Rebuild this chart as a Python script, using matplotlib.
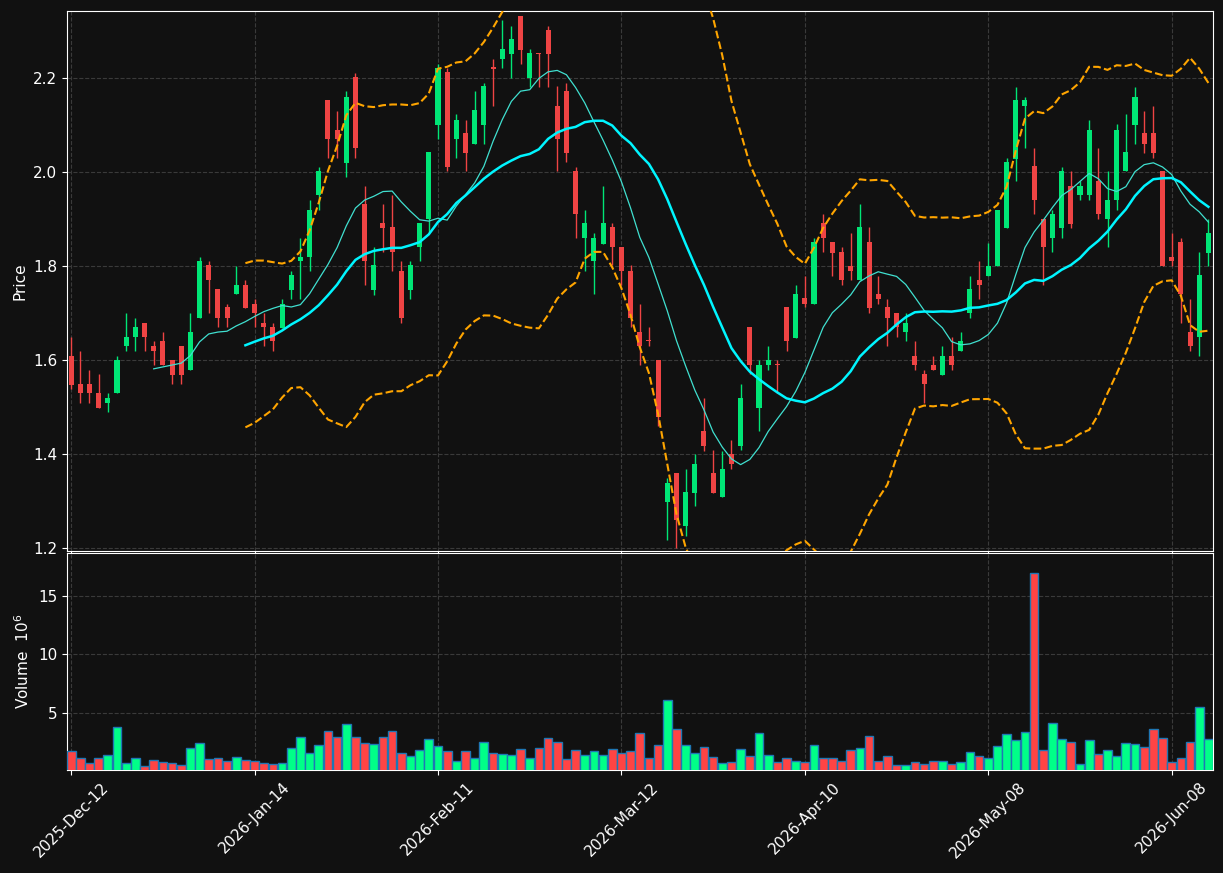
import numpy as np
import pandas as pd
import matplotlib
matplotlib.use("Agg")
import matplotlib.pyplot as plt

# dados OHLC (preço)
opens = [1.609, 1.550, 1.550, 1.531, 1.508, 1.529, 1.629, 1.648, 1.679, 1.630,
         1.641, 1.601, 1.630, 1.578, 1.689, 1.801, 1.750, 1.712, 1.740, 1.760,
         1.720, 1.679, 1.671, 1.669, 1.748, 1.810, 1.818, 1.951, 2.152, 2.090,
         2.019, 2.201, 1.931, 1.748, 1.891, 1.882, 1.790, 1.748, 1.840, 1.899,
         2.100, 2.212, 2.070, 2.082, 2.059, 2.100, 2.222, 2.241, 2.251, 2.331,
         2.200, 2.252, 2.301, 2.141, 2.171, 2.001, 1.860, 1.810, 1.847, 1.882,
         1.841, 1.790, 1.660, 1.641, 1.601, 1.299, 1.360, 1.248, 1.317, 1.449,
         1.360, 1.308, 1.400, 1.418, 1.671, 1.499, 1.589, 1.591, 1.712, 1.647,
         1.731, 1.719, 1.891, 1.850, 1.830, 1.800, 1.770, 1.850, 1.740, 1.712,
         1.700, 1.660, 1.608, 1.571, 1.590, 1.569, 1.608, 1.619, 1.700, 1.771,
         1.779, 1.800, 1.880, 2.028, 2.140, 2.012, 1.900, 1.860, 1.880, 1.971,
         1.951, 1.951, 1.981, 1.899, 1.940, 2.001, 2.100, 2.082, 2.082, 2.001,
         1.820, 1.850, 1.660, 1.649, 1.828]
highs = [1.650, 1.619, 1.579, 1.571, 1.531, 1.608, 1.700, 1.690, 1.679, 1.641,
         1.660, 1.601, 1.630, 1.700, 1.820, 1.811, 1.750, 1.719, 1.800, 1.770,
         1.730, 1.700, 1.679, 1.730, 1.789, 1.860, 1.941, 2.010, 2.152, 2.130,
         2.171, 2.211, 1.971, 1.841, 1.931, 1.951, 1.811, 1.811, 1.891, 2.042,
         2.230, 2.220, 2.122, 2.111, 2.171, 2.190, 2.241, 2.322, 2.311, 2.331,
         2.261, 2.252, 2.311, 2.182, 2.190, 2.010, 1.920, 1.870, 1.971, 1.891,
         1.841, 1.801, 1.719, 1.671, 1.601, 1.349, 1.360, 1.369, 1.400, 1.519,
         1.409, 1.407, 1.430, 1.549, 1.671, 1.600, 1.630, 1.600, 1.712, 1.760,
         1.779, 1.860, 1.911, 1.850, 1.841, 1.871, 1.931, 1.882, 1.779, 1.729,
         1.700, 1.700, 1.640, 1.579, 1.608, 1.630, 1.650, 1.660, 1.779, 1.811,
         1.848, 1.920, 2.030, 2.181, 2.160, 2.051, 1.900, 1.920, 2.010, 2.001,
         1.981, 2.111, 2.051, 2.001, 2.101, 2.122, 2.181, 2.130, 2.141, 2.001,
         1.870, 1.860, 1.730, 1.830, 1.900]
lows = [1.539, 1.509, 1.509, 1.499, 1.490, 1.529, 1.619, 1.619, 1.619, 1.589,
        1.589, 1.549, 1.549, 1.578, 1.689, 1.700, 1.671, 1.671, 1.740, 1.710,
        1.671, 1.629, 1.619, 1.669, 1.729, 1.729, 1.789, 1.920, 2.030, 2.030,
        1.990, 2.030, 1.759, 1.739, 1.830, 1.789, 1.678, 1.729, 1.811, 1.871,
        2.070, 2.001, 2.030, 2.001, 2.059, 2.059, 2.141, 2.221, 2.200, 2.230,
        2.180, 2.180, 2.180, 2.001, 2.020, 1.860, 1.789, 1.740, 1.847, 1.801,
        1.759, 1.671, 1.589, 1.629, 1.460, 1.218, 1.200, 1.227, 1.289, 1.407,
        1.317, 1.308, 1.369, 1.409, 1.571, 1.449, 1.579, 1.530, 1.619, 1.647,
        1.712, 1.719, 1.830, 1.779, 1.759, 1.770, 1.770, 1.700, 1.719, 1.630,
        1.650, 1.640, 1.579, 1.509, 1.579, 1.569, 1.579, 1.619, 1.689, 1.729,
        1.779, 1.800, 1.880, 1.981, 2.050, 1.910, 1.759, 1.830, 1.860, 1.880,
        1.940, 1.940, 1.900, 1.840, 1.920, 2.001, 2.060, 2.041, 2.030, 1.800,
        1.800, 1.679, 1.619, 1.608, 1.800]
closes = [1.548, 1.529, 1.529, 1.499, 1.520, 1.601, 1.649, 1.671, 1.648, 1.619,
          1.589, 1.569, 1.569, 1.660, 1.811, 1.770, 1.689, 1.689, 1.760, 1.710,
          1.699, 1.671, 1.640, 1.720, 1.780, 1.820, 1.920, 2.001, 2.070, 2.070,
          2.160, 2.050, 1.810, 1.801, 1.880, 1.830, 1.689, 1.801, 1.891, 2.042,
          2.221, 2.010, 2.111, 2.040, 2.131, 2.182, 2.219, 2.261, 2.282, 2.259,
          2.252, 2.250, 2.251, 2.070, 2.040, 1.910, 1.891, 1.860, 1.891, 1.840,
          1.789, 1.689, 1.629, 1.640, 1.478, 1.339, 1.259, 1.320, 1.380, 1.418,
          1.317, 1.369, 1.378, 1.519, 1.589, 1.590, 1.601, 1.589, 1.640, 1.740,
          1.719, 1.850, 1.860, 1.828, 1.770, 1.789, 1.882, 1.710, 1.729, 1.689,
          1.671, 1.679, 1.589, 1.549, 1.579, 1.608, 1.589, 1.641, 1.750, 1.759,
          1.800, 1.920, 2.020, 2.152, 2.152, 1.940, 1.840, 1.911, 2.001, 1.889,
          1.971, 2.090, 1.910, 1.941, 2.090, 2.042, 2.160, 2.060, 2.040, 1.800,
          1.810, 1.740, 1.629, 1.780, 1.871]
# volume em milhões
volumes = [1.77, 1.15, 0.75, 1.15, 1.40, 3.81, 0.75, 1.15, 0.47, 0.98,
           0.84, 0.75, 0.58, 2.00, 2.45, 1.09, 1.15, 0.92, 1.26, 1.00,
           0.92, 0.75, 0.64, 0.75, 2.00, 2.96, 1.60, 2.28, 3.47, 2.96,
           4.07, 2.96, 2.45, 2.37, 2.96, 3.47, 1.60, 1.35, 1.86, 2.79,
           2.20, 1.77, 0.92, 1.77, 1.18, 2.54, 1.60, 1.52, 1.43, 1.94,
           1.18, 2.03, 2.88, 2.54, 1.09, 1.86, 1.43, 1.77, 1.43, 1.94,
           1.60, 1.77, 3.30, 1.18, 2.28, 6.10, 3.64, 2.28, 1.60, 2.11,
           1.26, 0.75, 0.84, 1.94, 1.35, 3.30, 1.43, 0.84, 1.18, 0.92,
           0.84, 2.28, 1.18, 1.18, 0.92, 1.86, 2.03, 3.05, 0.92, 1.35,
           0.58, 0.58, 0.84, 0.67, 0.92, 0.92, 0.67, 0.84, 1.69, 1.35,
           1.18, 2.20, 3.22, 2.71, 3.39, 16.95, 1.86, 4.15, 2.79, 2.54,
           0.67, 2.71, 1.52, 1.86, 1.35, 2.45, 2.37, 2.11, 3.64, 2.88,
           0.84, 1.18, 2.54, 5.51, 2.79]

# dias úteis (sem feriados)
feriados = ['2025-12-25', '2025-12-26', '2026-01-01', '2026-02-16', '2026-04-03', '2026-05-25']
datas = pd.bdate_range('2025-12-12', periods=len(closes) + len(feriados))
datas = datas[~datas.isin(pd.to_datetime(feriados))][:len(closes)]

df = pd.DataFrame({'Open': opens, 'High': highs, 'Low': lows, 'Close': closes,
                   'Volume': volumes}, index=datas)

# médias móveis e bandas de Bollinger
ma10 = df['Close'].rolling(10).mean()
ma20 = df['Close'].rolling(20).mean()
std20 = df['Close'].rolling(20).std(ddof=0)
bb_up = ma20 + 2 * std20
bb_dn = ma20 - 2 * std20

bg = '#111111'
up_c, dn_c = '#00e676', '#ef4444'
vup_c, vdn_c = '#00ff88', '#ff4444'

fig = plt.figure(figsize=(12.23, 8.73), dpi=100, facecolor=bg)
ax = fig.add_axes([0.0548, 0.3688, 0.937, 0.6186], facecolor=bg)
axv = fig.add_axes([0.0548, 0.118, 0.937, 0.2486], facecolor=bg, sharex=ax)

x = np.arange(len(df))
subida = df['Close'] >= df['Open']
cores = np.where(subida, up_c, dn_c)

# pavios e corpos
ax.vlines(x, df['Low'], df['High'], colors=cores, linewidth=1, zorder=2)
base = np.minimum(df['Open'], df['Close'])
altura = np.maximum((df['Close'] - df['Open']).abs(), 0.002)
ax.bar(x, altura, bottom=base, width=0.55, color=cores, linewidth=0, zorder=3)

ax.plot(x, ma10, color='#40e0d0', linewidth=0.9, zorder=4)
ax.plot(x, ma20, color='#00f5ff', linewidth=1.8, zorder=4)
ax.plot(x, bb_up, color='#ffa500', linewidth=1.5, linestyle='--', zorder=4)
ax.plot(x, bb_dn, color='#ffa500', linewidth=1.5, linestyle='--', zorder=4)

ax.set_ylim(df['Low'].min() - 0.006, df['High'].max() + 0.011)
ax.set_xlim(-0.45, len(df) - 0.5)
ax.set_ylabel('Price', color='white', fontsize=11)

vcores = np.where(subida, vup_c, vdn_c)
axv.bar(x, df['Volume'], width=0.95, color=vcores, edgecolor='#1f77b4', linewidth=1, zorder=3)
axv.set_ylim(0.3 * df['Volume'].min(), 1.1 * df['Volume'].max())
axv.set_yticks([5, 10, 15])
axv.set_ylabel('Volume  $10^{6}$', color='white', fontsize=11)

ticks = x[::20]
axv.set_xticks(ticks)
axv.set_xticklabels([d.strftime('%Y-%b-%d') for d in df.index[ticks]], rotation=45, ha='center')
plt.setp(ax.get_xticklabels(), visible=False)

for a in (ax, axv):
    a.grid(True, color='#3a3a3a', linestyle='--', linewidth=0.8, zorder=0)
    a.set_axisbelow(True)
    a.tick_params(colors='white', labelsize=11)
    for s in a.spines.values():
        s.set_color('white')

fig.savefig('out.png', dpi=100, facecolor=bg)
